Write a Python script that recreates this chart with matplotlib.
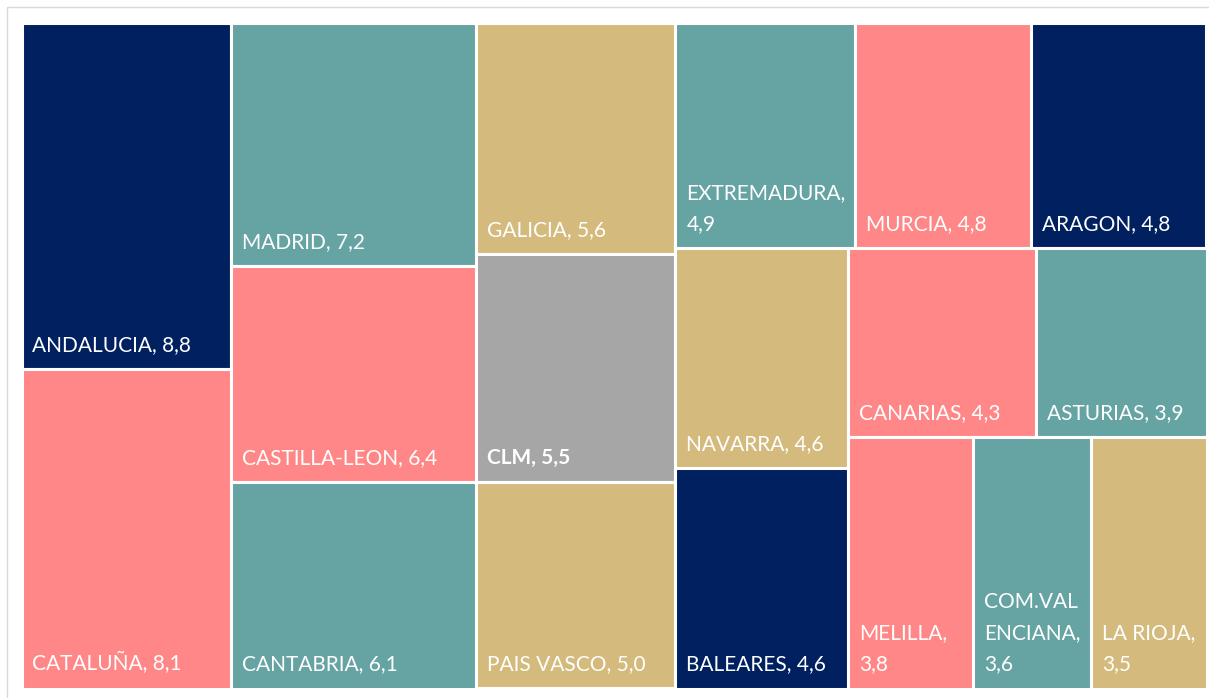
import matplotlib
matplotlib.use('Agg')
import matplotlib.pyplot as plt
from matplotlib.patches import Rectangle

plt.rcParams['font.family'] = ['Lato', 'DejaVu Sans']

# datos
labels = ['ANDALUCIA', 'CATALUÑA', 'MADRID', 'CASTILLA-LEON', 'CANTABRIA',
          'GALICIA', 'CLM', 'PAIS VASCO', 'EXTREMADURA', 'MURCIA', 'ARAGON',
          'NAVARRA', 'BALEARES', 'CANARIAS', 'ASTURIAS', 'MELILLA',
          'COM.VALENCIANA', 'LA RIOJA']
values = [8.8, 8.1, 7.2, 6.4, 6.1, 5.6, 5.5, 5.0, 4.9, 4.8, 4.8,
          4.6, 4.6, 4.3, 3.9, 3.8, 3.6, 3.5]
navy, teal, salmon, gold, grey = '#002060', '#66A3A3', '#FF8787', '#D4BB7D', '#A6A6A6'
colors = [navy, salmon, teal, salmon, teal, gold, grey, gold, teal, salmon, navy,
          gold, navy, salmon, teal, salmon, teal, gold]
# etiquetas partidas en varias lineas (cajas estrechas)
wrap = {'EXTREMADURA': 'EXTREMADURA,\n', 'MELILLA': 'MELILLA,\n',
        'COM.VALENCIANA': 'COM.VAL\nENCIANA,\n', 'LA RIOJA': 'LA RIOJA,\n'}

# estructura de cortes (h = lado a lado, v = apilado)
layout = ('h', [('v', [0, 1]), ('v', [2, 3, 4]), ('v', [5, 6, 7]),
                ('v', [('h', [8, 9, 10]),
                       ('h', [('v', [11, 12]),
                              ('v', [('h', [13, 14]), ('h', [15, 16, 17])])])])])


def total(node):
    if isinstance(node, int):
        return values[node]
    return sum(total(c) for c in node[1])


rects = {}


def place(node, x, y, w, h):
    if isinstance(node, int):
        rects[node] = (x, y, w, h)
        return
    orient, kids = node
    s = total(node)
    for k in kids:
        f = total(k) / s
        if orient == 'h':
            place(k, x, y, w * f, h)
            x += w * f
        else:
            place(k, x, y, w, h * f)
            y += h * f


x0, y0, x1, y1 = 21.5, 22.5, 1206.5, 688.5
place(layout, x0, y0, x1 - x0, y1 - y0)

fig = plt.figure(figsize=(12.09, 6.98), dpi=100)
ax = fig.add_axes([0, 0, 1, 1])
ax.set_xlim(0, 1209)
ax.set_ylim(698, 0)
ax.axis('off')

ax.add_patch(Rectangle((6.5, 6.5), 1220, 700, fill=False, edgecolor='#D9D9D9', lw=1))

for i, (x, y, w, h) in rects.items():
    ax.add_patch(Rectangle((x, y), w, h, facecolor=colors[i], edgecolor='white', lw=2.2))
    v = f'{values[i]:.1f}'.replace('.', ',')
    name = labels[i]
    txt = wrap[name] + v if name in wrap else f'{name}, {v}'
    ax.text(x + 11, y + h - 14, txt, color='white', fontsize=15, ha='left', va='bottom',
            linespacing=1.7, fontweight='bold' if name == 'CLM' else 'normal')

fig.savefig('out.png', dpi=100)
